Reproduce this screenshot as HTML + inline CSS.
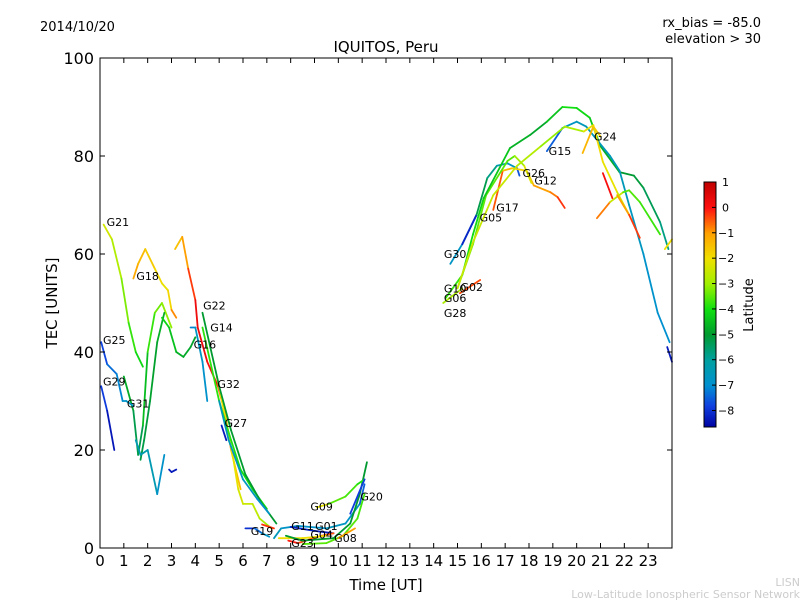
<!DOCTYPE html>
<html><head><meta charset="utf-8"><style>
body{margin:0;background:#fff;}
svg{display:block;font-family:"DejaVu Sans","Liberation Sans",sans-serif;}
</style></head><body>
<svg id="chart" width="800" height="600">
<text x="40" y="31" font-size="13">2014/10/20</text>
<text x="761" y="27" font-size="13" text-anchor="end">rx_bias = -85.0</text>
<text x="761" y="43" font-size="13" text-anchor="end">elevation &gt; 30</text>
<text x="386" y="52" font-size="15" text-anchor="middle">IQUITOS, Peru</text>
<text x="386" y="590" font-size="15" text-anchor="middle">Time [UT]</text>
<text transform="translate(57,303) rotate(-90)" font-size="15" text-anchor="middle">TEC [UNITS]</text>
<text x="800" y="586" font-size="11" fill="#ccc" text-anchor="end">LISN</text>
<text x="800" y="598" font-size="11" fill="#ccc" text-anchor="end">Low-Latitude Ionospheric Sensor Network</text>
<g id="plot"></g>
<g id="axes"></g>
<g id="cbar"></g>
<text transform="translate(753,305) rotate(-90)" font-size="13" text-anchor="middle">Latitude</text>
</svg>
<script>
const xTicks=[0,1,2,3,4,5,6,7,8,9,10,11,12,13,14,15,16,17,18,19,20,21,22,23];
const yTicks=[0,20,40,60,80,100];
const cbTicks=[1,0,-1,-2,-3,-4,-5,-6,-7,-8];
const satNames=["G21","G18","G22","G14","G16","G25","G29","G31","G32","G27","G19","G11","G01","G04","G23","G08","G09","G20","G30","G10","G02","G06","G28","G05","G17","G26","G12","G15","G24"];
const satLabelT=[0.15,1.4,4.2,4.5,3.8,0,0,1.0,4.8,5.1,6.2,7.9,8.9,8.7,7.9,9.7,8.7,10.8,14.3,14.3,15.0,14.3,14.3,15.8,16.5,17.6,18.1,18.7,20.6];
const satLabelTec=[66.5,55.5,49.5,45,41.5,42.5,34,29.5,33.5,25.5,3.5,4.5,4.5,2.8,1,2,8.5,10.5,60,53,53.3,51,48,67.5,69.5,76.5,75,81,84];
const trackT=[
[0.15,0.5,0.9,1.2,1.5,1.8],
[1.0,1.4,1.6,1.8,2.0,2.3,2.6,3.0],
[1.4,1.6,1.9,2.3,2.6,2.85,3.0,3.2],
[2.7,2.4,2.1,1.85,1.7],
[3.15,3.45,3.7,4.0,4.1,4.5,4.95,5.25,5.5,5.9],
[0.05,0.3,0.7,0.95,1.1,1.4],
[0.05,0.3,0.6],
[1.5,1.7,2.0,2.4,2.7],
[2.9,3.0,3.2],
[3.8,4.0,4.3,4.5],
[4.9,5.2,5.6,5.8,6.0,6.4,6.7,7.2],
[4.3,5.0,5.5,5.9,6.4,7.0],
[4.3,5.0,5.5,6.1,6.8,7.4],
[5.0,5.4,6.0,6.6,7.1],
[5.1,5.3],
[6.1,6.5,6.8,7.1],
[6.8,7.3],
[7.3,7.6,8.3,9.5,10.3,10.9,11.1],
[8.0,9.0,9.8],
[7.9,8.3,9.3,9.8],
[7.5,8.5,9.5],
[8.5,9.5,10.2,10.8,11.1],
[7.8,8.5,9.8,10.5,10.9,11.2],
[10.0,10.7],
[9.1,9.6,10.3,10.8,11.1],
[10.5,11.1],
[14.7,15.2,15.8],
[15.2,15.8],
[15.8,16.25,16.65,17.1,17.5,17.6],
[16.5,16.9,17.3,17.9,18.2,18.9,19.2,19.5],
[15.0,15.65,16.2,17.1,17.4,17.8,18.1],
[14.5,15.2,15.65,16.1,17.2,18.05,18.75,19.4,20.0,20.55,21.0,21.8,22.4,22.8,23.5,23.85],
[18.75,19.4,20.0,20.4,21.4,21.8,22.2,22.8,23.4,23.9],
[15.0,15.65,16.5,17.5,18.5,19.5,20.3,20.7,21.1,21.7,22.2],
[20.25,20.7,21.0],
[21.1,21.5],
[20.85,21.4,21.95,22.2,22.65,23.5],
[21.7,22.2,22.65],
[23.7,24.0],
[23.8,24.0],
[15.1,15.95],
[14.4,15.2],
[2.6,2.9,3.2,3.5,3.8,4.0]
];
const trackTec=[
[66,63,55,46,40,37],
[35,28,19,25,40,48,50,45],
[55,58,61,57,54,52.6,48.6,47],
[48,42,30,22,18],
[61,63.5,57,50.6,45,38,33,27.5,20,12],
[42,37.5,35.5,30,30,29],
[33,28,20],
[22,19,20,11,19],
[16,15.5,16],
[45,45,38,30],
[35,28,18,12,9,9,6,4],
[45,30,22,16,12,8],
[48,33,24,15,9,5],
[30,22,14,10,7],
[25,22],
[4,4,3,2.3],
[4.8,4],
[2,4,4.5,4,5,9,13],
[4.3,3.5,3],
[1.5,1,2.5,3],
[2,2,2.5],
[0.8,1,2.5,6,11],
[2.5,1.5,2,5,11,17.5],
[2,4],
[8.3,9,10.5,13,14],
[7,14],
[58,62,68],
[62,68],
[68,75.5,78,78.5,77.5,76],
[69,77,77.5,77,74,72.6,71.6,69.4],
[53,62,72,79,80,78,74.5],
[51,55.7,64,71.4,81.6,84.3,87,90,89.8,87.8,82,76.7,76,73.5,66.5,61],
[81,85.7,87,86,80,77,70,60,48,42],
[53,62.4,72,78,82,86,85,86.3,78.8,72.6,68],
[80.6,86,84],
[76.5,71.4],
[67.3,70.6,72.6,73,70.6,64],
[72,68,63.3],
[61,63],
[41,38],
[52,54.7],
[50,53],
[47,45,40,39,41,43]
];
const trackLat=[
[-2.2,-2.6,-3,-3.5,-4,-4.2],
[-4.5,-5,-5.5,-5,-4,-3.5,-3.2,-3],
[-1,-1.3,-1.5,-1.8,-2,-2.2,-1.5,-0.2],
[-4.6,-4.8,-5,-5.2,-5.2],
[-1.8,-1.2,-0.8,0.2,0.3,0.2,0,-0.5,-1.2,-1.8],
[-8,-7.5,-7.2,-7,-6.8,-6.6],
[-7.5,-8.2,-8.5],
[-6.5,-6.3,-6.3,-6.5,-7.2],
[-8.2,-8.3,-8.3],
[-7.5,-6.8,-6.6,-7.2],
[-2,-2,-2,-2.2,-2.5,-2.5,-2.8,-3],
[-3.8,-3.8,-3.8,-4,-4,-4],
[-5,-5,-5,-5,-5,-5],
[-6.5,-6.5,-6.5,-6.8,-7],
[-8.3,-8.3],
[-8.2,-7.8,-7,-6.5],
[0,-0.5],
[-6.5,-6.5,-7,-6.8,-6.5,-7.2,-7.8],
[-8.2,-8.2,-8.3],
[0,-0.2,-0.5,-0.5],
[-2,-2,-2],
[-3.5,-3.5,-3.5,-3.5,-3.8],
[-5,-5,-5,-5,-5,-5],
[-1,-1],
[-0.8,-3.5,-3.5,-3.8,-4],
[-8.2,-7.5],
[-6.5,-7,-7.5],
[-8,-8.3],
[-5,-5.5,-6,-6.5,-7,-8.2],
[0,-1,-1.8,-1.8,-1,-1,-0.5,0],
[-3.2,-3.4,-3.5,-3.5,-3.5,-2.5,-2],
[-3.5,-4,-4,-4.2,-4.5,-4.8,-4.8,-4,-4,-4.2,-4.5,-5,-5,-5.2,-5.5,-6],
[-8,-7,-6.5,-6.5,-6.5,-6.5,-6.5,-6.8,-7,-7],
[-2.5,-2.5,-2.5,-2.5,-3,-3.2,-2.5,-1.8,-2,-2.2,-2.5],
[-1.2,-1.5,-1.8],
[0.2,0],
[0,-1.5,-3.5,-3.5,-3.6,-3.8],
[-1.2,-0.8,0.2],
[-2,-2],
[-8.3,-8.3],
[-1,0.2],
[-2.2,-3.5],
[-4,-4.3,-4.6,-4.8,-4.8,-4.9]
];
const X0=100,X1=672,Y0=548,Y1=58;
const xs=t=>X0+(t/24)*(X1-X0);
const ys=v=>Y0-(v/100)*(Y0-Y1);
const VMIN=-8.65,VMAX=1,CB_TOP=182,CB_BOT=427;
const stopV=[1,0,-1,-2,-3,-4,-5,-6,-7,-7.8,-8.65];
const stopC=[[192,0,0],[255,16,16],[255,160,0],[240,224,0],[160,240,0],[16,224,16],[0,154,48],[0,160,160],[0,144,208],[16,64,224],[0,0,160]];
function jet(v){v=Math.max(VMIN,Math.min(VMAX,v));
 for(let i=0;i<stopV.length-1;i++){if(v<=stopV[i]&&v>=stopV[i+1]){const f=(stopV[i]-v)/(stopV[i]-stopV[i+1]);
  const c=stopC[i].map((a,k)=>Math.round(a+(stopC[i+1][k]-a)*f));return `rgb(${c[0]},${c[1]},${c[2]})`;}}
 return 'rgb(0,0,160)';}
const NS="http://www.w3.org/2000/svg";
function mk(tag,attrs,parent){const e=document.createElementNS(NS,tag);for(const k in attrs)e.setAttribute(k,attrs[k]);parent.appendChild(e);return e;}
const plot=document.getElementById('plot'),axes=document.getElementById('axes'),cbar=document.getElementById('cbar');
mk('rect',{x:X0,y:Y1,width:X1-X0,height:Y0-Y1,fill:'#fff'},plot);
for(let i=0;i<trackT.length;i++){
 const g=mk('g',{},plot);
 
 
 for(let j=0;j<trackT[i].length-1;j++){
  const l=mk('line',{x1:xs(trackT[i][j]),y1:ys(trackTec[i][j]),x2:xs(trackT[i][j+1]),y2:ys(trackTec[i][j+1]),stroke:jet((trackLat[i][j]+trackLat[i][j+1])/2),'stroke-width':1.8,'stroke-linecap':'round'},g);
  
  
 }
}
for(let i=0;i<satNames.length;i++){
 const t=mk('text',{x:xs(satLabelT[i])+3,y:ys(satLabelTec[i])+4,'font-size':11},plot);
 t.textContent=satNames[i];
 
 
}
mk('rect',{x:X0,y:Y1,width:X1-X0,height:Y0-Y1,fill:'none',stroke:'#000','stroke-width':1},axes);
xTicks.forEach(v=>{const x=xs(v);
 mk('line',{x1:x,y1:Y0,x2:x,y2:Y0-5,stroke:'#000'},axes);
 mk('line',{x1:x,y1:Y1,x2:x,y2:Y1+5,stroke:'#000'},axes);
 const t=mk('text',{x:x,y:Y0+18,'font-size':15,'text-anchor':'middle'},axes);t.textContent=v;
 
 });
yTicks.forEach(v=>{const y=ys(v);
 mk('line',{x1:X0,y1:y,x2:X0+5,y2:y,stroke:'#000'},axes);
 mk('line',{x1:X1,y1:y,x2:X1-5,y2:y,stroke:'#000'},axes);
 const t=mk('text',{x:X0-6,y:y+6,'font-size':16,'text-anchor':'end'},axes);t.textContent=v;
 
 });
for(let y=CB_TOP;y<CB_BOT;y++){const v=VMAX-(y-CB_TOP)/(CB_BOT-CB_TOP)*(VMAX-VMIN);
 mk('rect',{x:704,y:y,width:12,height:1.2,fill:jet(v)},cbar);}
mk('rect',{x:704,y:CB_TOP,width:12,height:CB_BOT-CB_TOP,fill:'none',stroke:'#000'},cbar);
cbTicks.forEach(v=>{const y=CB_TOP+(VMAX-v)/(VMAX-VMIN)*(CB_BOT-CB_TOP);
 mk('line',{x1:712,y1:y,x2:716,y2:y,stroke:'#000'},cbar);
 const t=mk('text',{x:v<0?718:722,y:y+4,'font-size':11},cbar);t.textContent=v<0?'\u2212'+(-v):v;
 
 });
</script>
</body></html>
